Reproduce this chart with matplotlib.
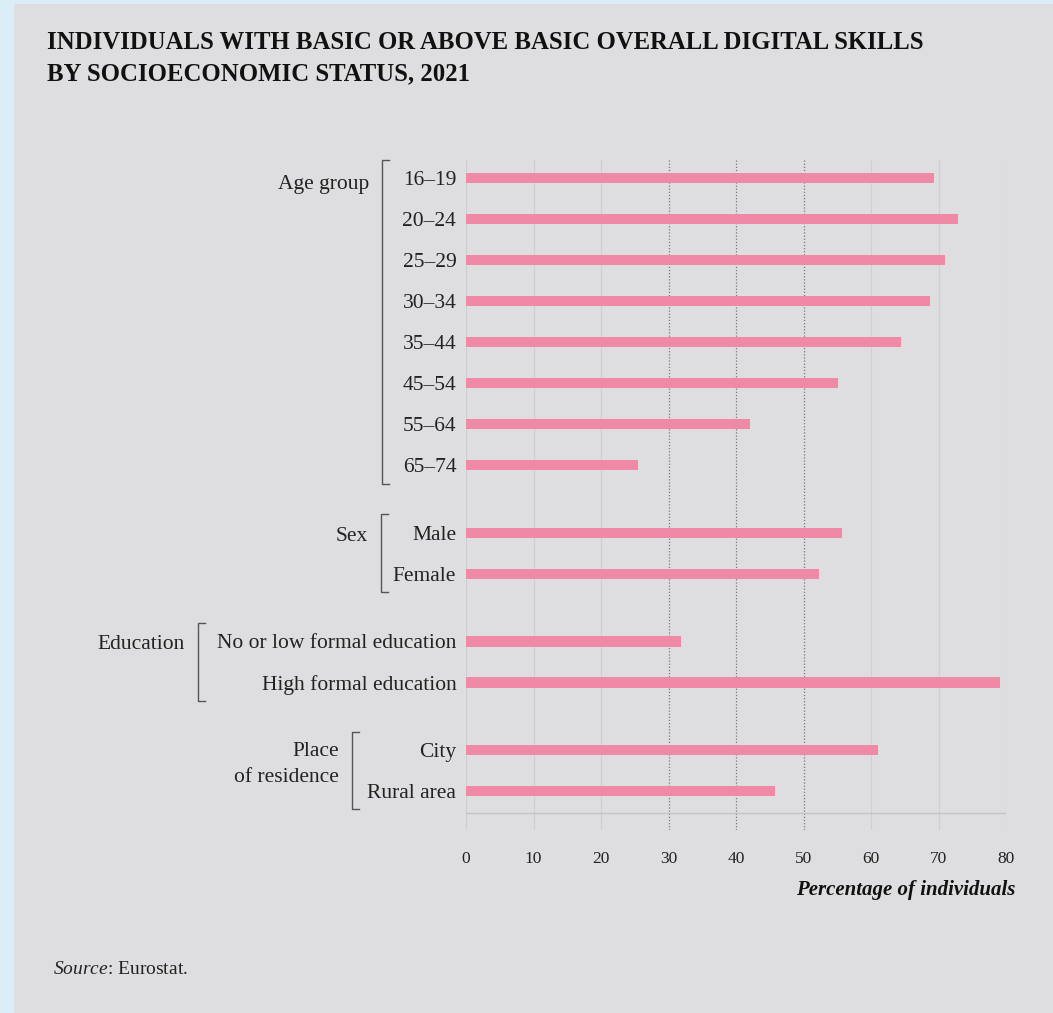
import numpy as np
import matplotlib.pyplot as plt
from matplotlib.transforms import blended_transform_factory
from matplotlib.lines import Line2D

plt.rcParams['font.family'] = ['Liberation Serif', 'DejaVu Serif']
plt.rcParams['mathtext.fontset'] = 'custom'
plt.rcParams['mathtext.it'] = 'Liberation Serif:italic'
plt.rcParams['mathtext.rm'] = 'Liberation Serif'

# data
grupos = ["Age group", "Sex", "Education", "Place\nof residence"]
age_labels = ["16–19", "20–24", "25–29", "30–34", "35–44", "45–54", "55–64", "65–74"]
age_vals = [69.3, 72.9, 71.0, 68.7, 64.4, 55.1, 42.1, 25.5]
sex_labels = ["Male", "Female"]
sex_vals = [55.7, 52.3]
edu_labels = ["No or low formal education", "High formal education"]
edu_vals = [31.9, 79.1]
res_labels = ["City", "Rural area"]
res_vals = [61.0, 45.8]
xticks = [0, 10, 20, 30, 40, 50, 60, 70, 80]

blocos = [age_labels, sex_labels, edu_labels, res_labels]
valores = [age_vals, sex_vals, edu_vals, res_vals]

# posicoes das barras (1 por linha, espaco extra entre grupos)
gap = 1.65
pos = []
inicio = []
y = 0.0
for i, b in enumerate(blocos):
    if i > 0:
        y += gap - 1
    inicio.append(y)
    for _ in b:
        pos.append(y)
        y += 1
labels = [l for b in blocos for l in b]
vals = [v for b in valores for v in b]

W, H = 1053, 1013
fig = plt.figure(figsize=(W / 100, H / 100), dpi=100)
fig.patch.set_facecolor("#dbeef8")
fig.add_artist(plt.Rectangle((14 / W, 0), 1, 1 - 4 / H, transform=fig.transFigure,
                             facecolor="#dedee0", edgecolor="none", zorder=-10))

ax = fig.add_axes([466 / W, 1 - 830 / H, (1006 - 466) / W, (830 - 160) / H])
ax.set_facecolor("none")

ax.barh(pos, vals, height=0.25, color="#f089a5", zorder=3)
ax.set_xlim(0, 80)
ax.set_ylim(15.9, -0.44)

# grade
for t in xticks:
    escuro = t in (30, 40, 50)
    ax.axvline(t, color="#555555" if escuro else "#c2c2c5", lw=0.9,
               ls=(0, (1, 1.5)) if escuro else "-", alpha=0.75 if escuro else 0.5, zorder=1)
base = (813 - 178) / 41
ax.axhline(base, color="#c4c4c6", lw=1.0, zorder=2)

for s in ax.spines.values():
    s.set_visible(False)

ax.set_yticks(pos)
ax.set_yticklabels(labels, fontsize=15.5, color="#222222")
ax.tick_params(axis="y", length=0, pad=7)
ax.set_xticks(xticks)
ax.set_xticklabels([str(t) for t in xticks], fontsize=12.5, color="#222222")
ax.tick_params(axis="x", length=0, pad=15)

# chaves dos grupos
tr = blended_transform_factory(fig.transFigure, ax.transData)
chave_x = [382, 381, 198, 352]
desloc = [0.15, 0.1, 0.07, 0.35]
for i, b in enumerate(blocos):
    x = chave_x[i] / W
    y0 = inicio[i] - 0.45
    y1 = inicio[i] + len(b) - 1 + 0.45
    fig.add_artist(Line2D([x + 7 / W, x, x, x + 7 / W], [y0, y0, y1, y1],
                          transform=tr, color="#555555", lw=1.0))
    fig.text(x - 13 / W, inicio[i] + desloc[i], grupos[i], transform=tr, ha="right", va="center",
             fontsize=15.5, color="#222222", linespacing=1.5)

fig.text(47 / W, 1 - 31 / H, "INDIVIDUALS WITH BASIC OR ABOVE BASIC OVERALL DIGITAL SKILLS\nBY SOCIOECONOMIC STATUS, 2021",
         ha="left", va="top", fontsize=17.8, fontweight="bold", color="#111111", linespacing=1.45)
fig.text(1015 / W, 1 - 890 / H, "Percentage of individuals", ha="right", va="center",
         fontsize=15, fontweight="bold", style="italic", color="#111111")
fig.text(53 / W, 1 - 970 / H, r"$\it{Source}$: Eurostat.", ha="left", va="center",
         fontsize=14, color="#222222")

plt.savefig("out.png", dpi=100, facecolor=fig.get_facecolor())
